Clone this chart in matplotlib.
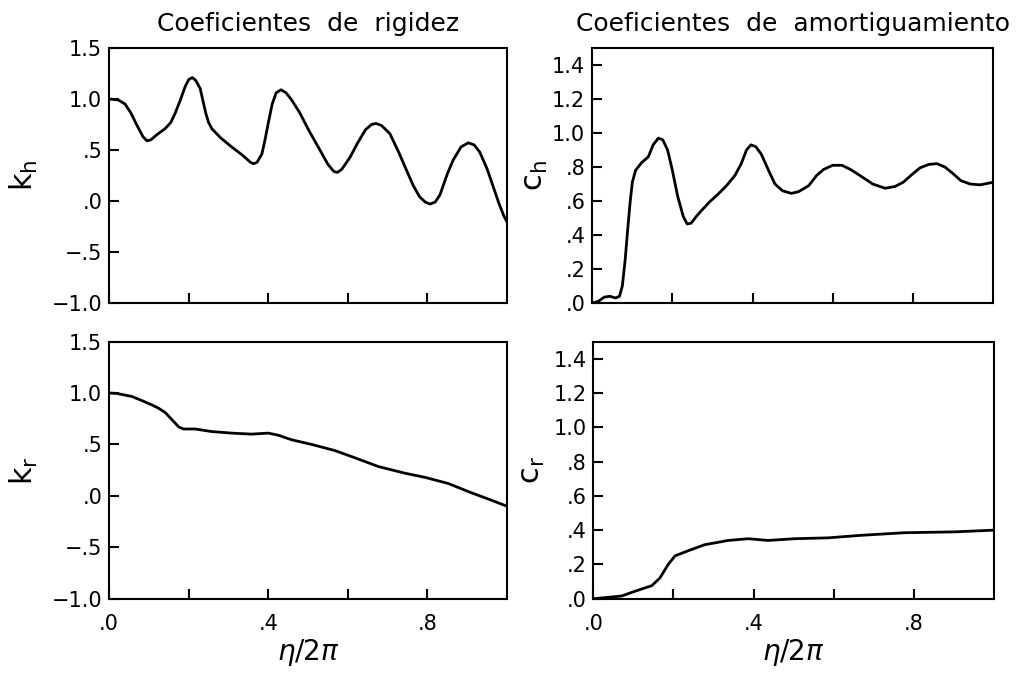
import matplotlib
matplotlib.use('Agg')
import matplotlib.pyplot as plt

# Datos (eta/2pi vs coeficiente)
x_kh = [0.0, 0.023, 0.04, 0.055, 0.07, 0.085, 0.095, 0.105, 0.12, 0.141, 0.155, 0.166, 0.18,
        0.191, 0.2, 0.209, 0.218, 0.229, 0.236, 0.243, 0.25, 0.258, 0.28, 0.308, 0.335,
        0.355, 0.363, 0.372, 0.384, 0.392, 0.400, 0.41, 0.42, 0.432, 0.445, 0.459, 0.48,
        0.501, 0.53, 0.55, 0.565, 0.574, 0.585, 0.606, 0.625, 0.645, 0.66, 0.671, 0.685,
        0.706, 0.728, 0.748, 0.765, 0.781, 0.795, 0.807, 0.82, 0.832, 0.85, 0.865, 0.885,
        0.903, 0.918, 0.932, 0.95, 0.966, 0.98, 0.992, 1.0]
y_kh = [1.0, 0.99, 0.95, 0.86, 0.74, 0.63, 0.59, 0.60, 0.65, 0.71, 0.77, 0.86, 1.0,
        1.12, 1.19, 1.21, 1.18, 1.10, 0.98, 0.86, 0.77, 0.71, 0.62, 0.53, 0.45,
        0.38, 0.365, 0.38, 0.46, 0.60, 0.76, 0.95, 1.06, 1.09, 1.06, 0.99, 0.86,
        0.70, 0.50, 0.36, 0.29, 0.28, 0.31, 0.43, 0.57, 0.70, 0.75, 0.76, 0.74,
        0.66, 0.48, 0.30, 0.15, 0.04, -0.01, -0.03, -0.01, 0.06, 0.26, 0.40, 0.53,
        0.57, 0.55, 0.48, 0.32, 0.14, -0.02, -0.14, -0.2]

x_ch = [0.0, 0.015, 0.03, 0.044, 0.058, 0.068, 0.075, 0.082, 0.088, 0.094, 0.1, 0.108,
        0.123, 0.14, 0.152, 0.165, 0.176, 0.188, 0.2, 0.213, 0.227, 0.237, 0.247, 0.26,
        0.273, 0.295, 0.314, 0.335, 0.356, 0.372, 0.385, 0.396, 0.408, 0.422, 0.44, 0.456,
        0.475, 0.497, 0.515, 0.54, 0.56, 0.577, 0.6, 0.623, 0.645, 0.668, 0.7, 0.731,
        0.755, 0.776, 0.8, 0.818, 0.84, 0.860, 0.88, 0.901, 0.92, 0.943, 0.968, 1.0]
y_ch = [0.0, 0.01, 0.035, 0.04, 0.03, 0.04, 0.10, 0.25, 0.42, 0.58, 0.71, 0.78,
        0.825, 0.86, 0.93, 0.97, 0.96, 0.90, 0.78, 0.63, 0.51, 0.465, 0.47, 0.51,
        0.545, 0.60, 0.64, 0.69, 0.75, 0.82, 0.90, 0.93, 0.92, 0.875, 0.78, 0.70,
        0.66, 0.645, 0.655, 0.69, 0.75, 0.785, 0.81, 0.81, 0.785, 0.75, 0.70, 0.675,
        0.685, 0.71, 0.76, 0.795, 0.815, 0.82, 0.80, 0.76, 0.72, 0.70, 0.695, 0.71]

x_kr = [0.0, 0.02, 0.057, 0.08, 0.107, 0.125, 0.141, 0.166, 0.175, 0.187, 0.195, 0.216,
        0.258, 0.308, 0.358, 0.400, 0.425, 0.459, 0.509, 0.568, 0.618, 0.677, 0.744,
        0.794, 0.853, 0.911, 0.953, 1.0]
y_kr = [1.0, 0.995, 0.966, 0.93, 0.885, 0.85, 0.81, 0.707, 0.67, 0.65, 0.65, 0.65,
        0.625, 0.61, 0.60, 0.61, 0.59, 0.545, 0.50, 0.44, 0.37, 0.285, 0.22,
        0.18, 0.12, 0.03, -0.03, -0.10]

x_cr = [0.0, 0.037, 0.071, 0.096, 0.121, 0.146, 0.166, 0.187, 0.204, 0.237, 0.278, 0.337,
        0.387, 0.436, 0.503, 0.586, 0.669, 0.777, 0.902, 1.0]
y_cr = [0.0, 0.008, 0.016, 0.037, 0.057, 0.076, 0.12, 0.20, 0.25, 0.28, 0.315, 0.34,
        0.35, 0.34, 0.35, 0.355, 0.37, 0.385, 0.39, 0.40]

k_ticks = [-1.0, -0.5, 0.0, 0.5, 1.0, 1.5]
k_labels = ['\u22121.0', '\u2212.5', '.0', '.5', '1.0', '1.5']
c_ticks = [0.0, 0.2, 0.4, 0.6, 0.8, 1.0, 1.2, 1.4]
c_labels = ['.0', '.2', '.4', '.6', '.8', '1.0', '1.2', '1.4']
x_ticks = [0.0, 0.2, 0.4, 0.6, 0.8]
x_labels = ['.0', '', '.4', '', '.8']

fig = plt.figure(figsize=(10.3, 6.75), dpi=100)

# posiciones de los paneles
ax_kh = fig.add_axes([0.106, 0.551, 0.386, 0.378])
ax_ch = fig.add_axes([0.575, 0.551, 0.389, 0.378])
ax_kr = fig.add_axes([0.106, 0.113, 0.386, 0.381])
ax_cr = fig.add_axes([0.576, 0.113, 0.389, 0.381])

paneles = [
    (ax_kh, x_kh, y_kh, (-1.0, 1.5), k_ticks, k_labels, r'$\mathrm{k_h}$', -0.175),
    (ax_ch, x_ch, y_ch, (0.0, 1.5), c_ticks, c_labels, r'$\mathrm{c_h}$', -0.105),
    (ax_kr, x_kr, y_kr, (-1.0, 1.5), k_ticks, k_labels, r'$\mathrm{k_r}$', -0.175),
    (ax_cr, x_cr, y_cr, (0.0, 1.5), c_ticks, c_labels, r'$\mathrm{c_r}$', -0.115),
]

for ax, xs, ys, lim, yt, yl, nombre, xpos in paneles:
    ax.plot(xs, ys, color='black', linewidth=2.0, solid_joinstyle='round')
    ax.set_xlim(0, 1.0)
    ax.set_ylim(*lim)
    ax.set_yticks(yt)
    ax.set_yticklabels(yl)
    ax.set_xticks(x_ticks)
    for s in ax.spines.values():
        s.set_linewidth(1.5)
    ax.tick_params(direction='in', length=7, width=1.5, labelsize=15, pad=5,
                   top=False, right=False)
    ax.set_ylabel(nombre, fontsize=22)
    ax.yaxis.set_label_coords(xpos, 0.5)

for ax in [ax_kh, ax_ch]:
    ax.set_xticklabels([])

for ax in [ax_kr, ax_cr]:
    ax.set_xticklabels(x_labels)
    ax.tick_params(axis='x', pad=11)
    ax.set_xlabel(r'$\eta/2\pi$', fontsize=20, labelpad=2)

ax_kh.set_title('Coeficientes  de  rigidez', fontsize=18, pad=12)
ax_ch.set_title('Coeficientes  de  amortiguamiento', fontsize=18, pad=12)

fig.savefig('out.png', dpi=100)
